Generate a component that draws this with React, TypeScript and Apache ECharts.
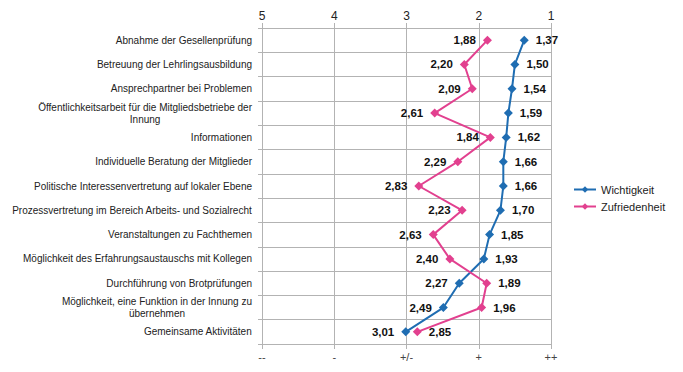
import React, { useEffect, useRef } from "react";
import * as echarts from "echarts";

const categories = [
  "Abnahme der Gesellenprüfung",
  "Betreuung der Lehrlingsausbildung",
  "Ansprechpartner bei Problemen",
  "Öffentlichkeitsarbeit für die Mitgliedsbetriebe der\nInnung",
  "Informationen",
  "Individuelle Beratung der Mitglieder",
  "Politische Interessenvertretung auf lokaler Ebene",
  "Prozessvertretung im Bereich Arbeits- und Sozialrecht",
  "Veranstaltungen zu Fachthemen",
  "Möglichkeit des Erfahrungsaustauschs mit Kollegen",
  "Durchführung von Brotprüfungen",
  "Möglichkeit, eine Funktion in der Innung zu\nübernehmen",
  "Gemeinsame Aktivitäten",
];

const wichtigkeit = [1.37, 1.5, 1.54, 1.59, 1.62, 1.66, 1.66, 1.7, 1.85, 1.93, 2.27, 2.49, 3.01];
const zufriedenheit = [1.88, 2.2, 2.09, 2.61, 1.84, 2.29, 2.83, 2.23, 2.63, 2.4, 1.89, 1.96, 2.85];

const bottomLabels: Record<number, string> = { 5: "--", 4: "-", 3: "+/-", 2: "+", 1: "++" };

const BLUE = "#1f6db2";
const PINK = "#e2408f";
const GRID = "#b3b3b3";
const FONT = "'Liberation Sans', Arial, sans-serif";

const fmt = (v: number) => v.toFixed(2).replace(".", ",");

export default function App() {
  const ref = useRef<HTMLDivElement>(null);
  useEffect(() => {
    if (!ref.current) return;
    const chart = echarts.init(ref.current, undefined, { renderer: "svg" });

    const makeData = (vals: number[], other: number[]) =>
      vals.map((v, i) => ({
        value: [v, categories[i]],
        label: { position: v <= other[i] ? "right" : "left" },
      }));

    const labelCommon = {
      show: true,
      distance: 7,
      fontFamily: FONT,
      fontSize: 11.5,
      fontWeight: "bold",
      color: "#111",
      formatter: (p: any) => fmt(p.value[0]),
    };

    chart.setOption({
      animation: false,
      textStyle: { fontFamily: FONT },
      grid: { left: 254, right: 140, top: 20, bottom: 36, containLabel: false },
      legend: {
        orient: "vertical",
        left: 560,
        top: 171,
        itemWidth: 22,
        itemHeight: 8,
        itemGap: 6,
        textStyle: { fontFamily: FONT, fontSize: 11, color: "#222" },
        data: ["Wichtigkeit", "Zufriedenheit"],
      },
      xAxis: [
        {
          type: "value",
          position: "top",
          min: 1,
          max: 5,
          interval: 1,
          inverse: true,
          axisLine: { show: true, lineStyle: { color: GRID } },
          axisTick: { show: true, length: 5, lineStyle: { color: GRID } },
          axisLabel: { fontFamily: FONT, fontSize: 12, color: "#222", margin: 6 },
          splitLine: { show: true, lineStyle: { color: GRID, width: 1 } },
        },
        {
          type: "value",
          position: "bottom",
          min: 1,
          max: 5,
          interval: 1,
          inverse: true,
          axisLine: { show: true, lineStyle: { color: GRID } },
          axisTick: { show: true, length: 5, lineStyle: { color: GRID } },
          axisLabel: {
            fontFamily: FONT,
            fontSize: 11,
            color: "#444",
            margin: 7,
            formatter: (v: number) => bottomLabels[v] ?? "",
          },
          splitLine: { show: false },
        },
      ],
      yAxis: {
        type: "category",
        data: categories,
        inverse: true,
        boundaryGap: true,
        axisLine: { show: true, lineStyle: { color: GRID } },
        axisTick: { show: true, length: 4, lineStyle: { color: GRID } },
        splitLine: { show: true, lineStyle: { color: GRID, width: 1 } },
        axisLabel: {
          margin: 10,
          fontFamily: FONT,
          fontSize: 10,
          color: "#222",
          lineHeight: 12,
          formatter: (v: string) =>
            v
              .split("\n")
              .map((s) => "{c|" + s + "}")
              .join("\n"),
          rich: {
            c: { align: "center", fontFamily: FONT, fontSize: 10, color: "#222", lineHeight: 12 },
          },
        },
      },
      series: [
        {
          name: "Wichtigkeit",
          type: "line",
          xAxisIndex: 0,
          data: makeData(wichtigkeit, zufriedenheit),
          symbol: "diamond",
          symbolSize: 9,
          lineStyle: { color: BLUE, width: 2 },
          itemStyle: { color: BLUE },
          label: labelCommon,
          z: 3,
        },
        {
          name: "Zufriedenheit",
          type: "line",
          xAxisIndex: 0,
          data: makeData(zufriedenheit, wichtigkeit),
          symbol: "diamond",
          symbolSize: 9,
          lineStyle: { color: PINK, width: 2 },
          itemStyle: { color: PINK },
          label: labelCommon,
          z: 4,
        },
      ],
    });
    return () => chart.dispose();
  }, []);
  return <div ref={ref} style={{ width: 683, height: 372 }} />;
}
